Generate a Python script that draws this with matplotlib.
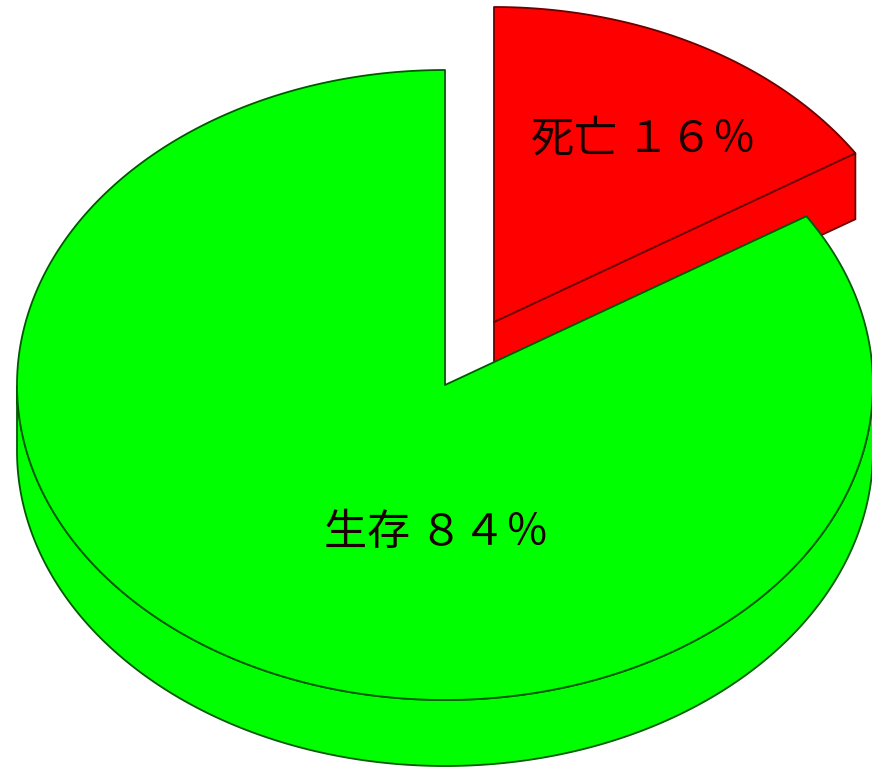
import numpy as np
import matplotlib.pyplot as plt
from matplotlib.patches import Polygon

# --- Adatok ---
labels = ['死亡', '生存']
values = [16, 84]
pct_text = ['１６％', '８４％']
colors = ['#ff0000', '#00ff00']
edge_colors = ['#6a0000', '#005a00']
explode = [1.0, 0.0]
# label position inside each slice (fraction of the radii)
label_pos = [(0.35, 0.58), (-0.02, -0.47)]

plt.rcParams['font.family'] = ['Noto Sans CJK JP', 'DejaVu Sans']

# --- Geometria ---
W, H = 872, 769
cx, cy = 445, 385
rx, ry = 428, 315
depth = 66
shift = (49, -63)

fig = plt.figure(figsize=(W / 100, H / 100), dpi=100)
ax = fig.add_axes([0, 0, 1, 1])
ax.set_xlim(0, W)
ax.set_ylim(H, 0)
ax.axis('off')


def pt(theta, ox, oy, dz=0.0):
    t = np.radians(theta)
    return cx + ox + rx * np.cos(t), cy + oy - ry * np.sin(t) + dz


start = 90.0
for lab, v, pct, col, ec, ex, lp in zip(labels, values, pct_text, colors,
                                        edge_colors, explode, label_pos):
    a1 = start
    a2 = start - 360.0 * v / sum(values)
    start = a2
    ox, oy = shift[0] * ex, shift[1] * ex

    # outer curved side (front half only)
    lo = max(a2, -180.0) if a2 < 0 else None
    ths = np.linspace(a2, a1, 400)
    front = ths[np.sin(np.radians(ths)) < 0]
    if len(front) > 1:
        top = [pt(t, ox, oy) for t in front]
        bot = [pt(t, ox, oy, depth) for t in front[::-1]]
        ax.add_patch(Polygon(top + bot, closed=True, fc=col, ec=ec, lw=1.3,
                             joinstyle='round'))

    # cut faces
    c0 = (cx + ox, cy + oy)
    c1 = (cx + ox, cy + oy + depth)
    if np.cos(np.radians(a2)) > 1e-6:
        p0 = pt(a2, ox, oy)
        p1 = pt(a2, ox, oy, depth)
        ax.add_patch(Polygon([c0, p0, p1, c1], closed=True, fc=col, ec=ec,
                             lw=1.3))
    if np.cos(np.radians(a1)) < -1e-6:
        p0 = pt(a1, ox, oy)
        p1 = pt(a1, ox, oy, depth)
        ax.add_patch(Polygon([c0, p0, p1, c1], closed=True, fc=col, ec=ec,
                             lw=1.3))

    # top face
    arc = [pt(t, ox, oy) for t in ths]
    ax.add_patch(Polygon([c0] + arc, closed=True, fc=col, ec=ec, lw=1.3,
                         joinstyle='round'))

    # label
    tx = cx + ox + lp[0] * rx
    ty = cy + oy - lp[1] * ry
    ax.text(tx, ty, f'{lab} {pct}', ha='center', va='center',
            fontsize=31, color='#1a0000')

fig.savefig('out.png', dpi=100)
